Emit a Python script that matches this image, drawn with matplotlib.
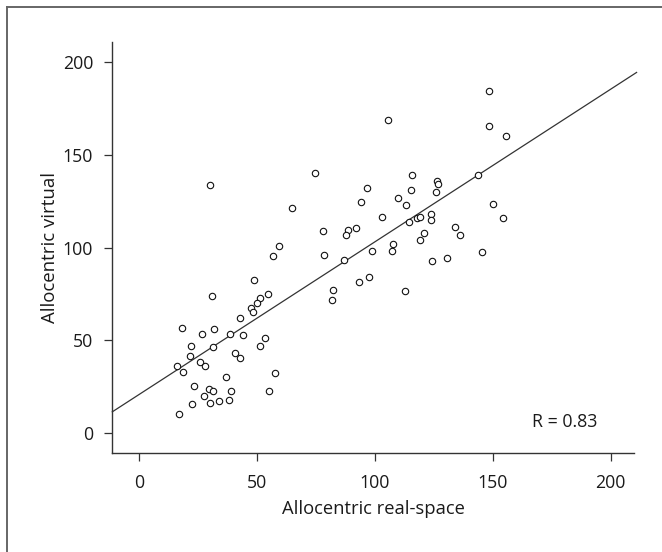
import matplotlib
matplotlib.use("Agg")
import matplotlib.pyplot as plt
from matplotlib.lines import Line2D

plt.rcParams['font.family'] = ['Open Sans', 'DejaVu Sans']

real_space = [148.5, 105.4, 148.3, 155.8, 74.6, 30.2, 115.6, 143.8, 126.5, 126.8,
              96.8, 115.4, 125.9, 110.0, 64.8, 94.3, 113.2, 150.1, 102.9, 117.9,
              119.3, 123.6, 123.6, 114.5, 154.4, 78.0, 91.9, 88.6, 87.7, 133.8,
              136.1, 120.9, 119.0, 107.5, 107.2, 98.9, 59.2, 56.9, 78.4, 86.8,
              124.3, 130.6, 145.3, 97.7, 93.2, 82.3, 81.8, 112.9, 48.7, 30.8,
              54.7, 51.2, 49.9, 47.4, 48.3, 42.8, 18.1, 26.7, 31.7, 38.6,
              44.0, 53.3, 22.2, 31.3, 51.3, 21.6, 40.8, 42.8, 25.6, 15.9,
              28.1, 18.4, 57.8, 37.0, 23.4, 29.5, 31.5, 38.8, 54.9, 27.5,
              37.9, 34.0, 22.5, 30.1, 17.0]
virtual = [184.4, 168.9, 165.7, 160.0, 140.4, 133.6, 139.3, 138.9, 135.9, 134.0,
           131.9, 130.9, 129.8, 126.9, 121.3, 124.3, 123.1, 123.7, 116.3, 115.9,
           116.3, 118.0, 114.8, 114.0, 115.9, 108.9, 110.4, 109.5, 107.0, 111.0,
           107.0, 107.6, 104.0, 101.9, 98.3, 98.1, 101.1, 95.3, 95.8, 93.5,
           92.6, 94.5, 97.5, 84.4, 81.4, 77.2, 71.9, 76.5, 82.5, 74.0,
           74.8, 73.1, 70.0, 67.2, 65.3, 62.0, 56.7, 53.7, 56.0, 53.7,
           53.1, 51.2, 46.9, 46.5, 47.2, 41.7, 43.1, 40.6, 38.3, 36.2,
           36.1, 33.2, 32.6, 30.2, 25.4, 23.7, 23.0, 22.8, 22.6, 19.9,
           18.0, 17.6, 15.7, 16.3, 10.2]

fit_slope = 0.822
fit_intercept = 20.9
r_label = "R = 0.83"
x_ticks = [0, 50, 100, 150, 200]
y_ticks = [0, 50, 100, 150, 200]
x_lim = (-11.4, 209.9)
y_lim = (-10.8, 210.9)

fig = plt.figure(figsize=(6.62, 5.52), dpi=100)
ax = fig.add_axes([0.1696, 0.1788, 0.7881, 0.7457])

ax.plot(real_space, virtual, linestyle='none', marker='o', ms=4.6,
        mfc='white', mec='#111111', mew=0.8, zorder=3)

xl = [x_lim[0], 211.0]
ax.plot(xl, [fit_slope * v + fit_intercept for v in xl], color='#333333',
        lw=0.9, clip_on=False, zorder=2)

ax.set_xlim(*x_lim)
ax.set_ylim(*y_lim)
ax.set_xticks(x_ticks)
ax.set_yticks(y_ticks)

for s in ['top', 'right']:
    ax.spines[s].set_visible(False)
for s in ['left', 'bottom']:
    ax.spines[s].set_color('#333333')
    ax.spines[s].set_linewidth(1.0)

ax.tick_params(direction='out', length=5.8, width=0.9, color='#333333',
               labelsize=12.8, labelcolor='#1a1a1a')
ax.tick_params(axis='x', pad=9)
ax.tick_params(axis='y', pad=8)

ax.set_xlabel("Allocentric real-space", fontsize=13.2, color='#1a1a1a', labelpad=6)
ax.set_ylabel("Allocentric virtual", fontsize=13.4, color='#1a1a1a', labelpad=3)

ax.text(194.2, 3.6, r_label, ha='right', va='baseline', fontsize=12.8,
        color='#1a1a1a')

# figure frame (top and left edges)
fig.add_artist(Line2D([7 / 662, 1.0], [1 - 6.5 / 552, 1 - 6.5 / 552],
                      transform=fig.transFigure, color='#666666', lw=1.4))
fig.add_artist(Line2D([7 / 662, 7 / 662], [0.0, 1 - 6.5 / 552],
                      transform=fig.transFigure, color='#666666', lw=1.4))

fig.savefig("out.png", dpi=100)
